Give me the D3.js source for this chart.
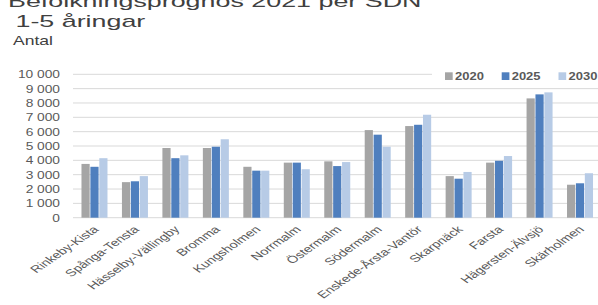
<!DOCTYPE html>
<html>
<head>
<meta charset="utf-8">
<script src="https://cdn.jsdelivr.net/npm/d3@7"></script>
<style>
  html, body { margin: 0; padding: 0; background: #fff; overflow: hidden; }
  svg { display: block; }
  text { font-family: "Liberation Sans", Arial, sans-serif; }
</style>
</head>
<body>
<svg id="chart" width="598" height="305"></svg>
<script>
const categories = ["Rinkeby-Kista", "Spånga-Tensta", "Hässelby-Vällingby", "Bromma", "Kungsholmen",
  "Norrmalm", "Östermalm", "Södermalm", "Enskede-Årsta-Vantör", "Skarpnäck", "Farsta",
  "Hägersten-Älvsjö", "Skärholmen"];
const seriesNames = ["2020", "2025", "2030"];
const values2020 = [3750, 2480, 4860, 4860, 3550, 3840, 3930, 6110, 6390, 2900, 3840, 8320, 2300];
const values2025 = [3550, 2540, 4150, 4950, 3280, 3840, 3600, 5790, 6480, 2720, 3970, 8600, 2400];
const values2030 = [4150, 2900, 4350, 5470, 3280, 3380, 3880, 4950, 7180, 3190, 4300, 8740, 3100];
const yTicks = [0, 1000, 2000, 3000, 4000, 5000, 6000, 7000, 8000, 9000, 10000];
const titleLines = ["Befolkningsprognos 2021 per SDN", " 1-5 åringar"];
const yTitle = "Antal";

const colors = { "2020": "#A5A5A5", "2025": "#4F7FBE", "2030": "#B7CBE6" };
const seriesValues = { "2020": values2020, "2025": values2025, "2030": values2030 };

const svg = d3.select("#chart");
const fmt = v => d3.format(",")(v).replace(/,/g, " ");

const x0 = d3.scaleBand().domain(categories).range([74.25, 600.25]).paddingInner(0).paddingOuter(0);
const x1 = d3.scaleBand().domain(seriesNames).range([-13, 13]).paddingInner(0.08);
const y = d3.scaleLinear().domain([0, 10000]).range([217.7, 74.3]);

// gridlines
svg.append("g").selectAll("line").data(yTicks).join("line")
  .attr("x1", 73).attr("x2", 600)
  .attr("y1", d => y(d)).attr("y2", d => y(d))
  .attr("stroke", "#D9D9D9").attr("stroke-width", 1);

// y tick labels
svg.append("g").selectAll("text").data(yTicks).join("text")
  .attr("transform", d => `translate(60,${y(d) + 3.9}) scale(1.25,1)`)
  .attr("text-anchor", "end")
  .attr("font-size", 11)
  .attr("fill", "#595959")
  .text(d => fmt(d));

// bars
const groups = svg.append("g").selectAll("g").data(categories).join("g")
  .attr("transform", d => `translate(${x0(d) + x0.bandwidth() / 2},0)`);
groups.selectAll("rect").data((d, i) => seriesNames.map(s => ({ s, v: seriesValues[s][i] }))).join("rect")
  .attr("x", d => x1(d.s))
  .attr("width", x1.bandwidth())
  .attr("y", d => y(d.v))
  .attr("height", d => y(0) - y(d.v))
  .attr("fill", d => colors[d.s]);

// category labels
svg.append("g").selectAll("text").data(categories).join("text")
  .attr("transform", d => `translate(${x0(d) + x0.bandwidth() / 2 + 5},230) scale(1.45,1) rotate(-45)`)
  .attr("text-anchor", "end")
  .attr("font-size", 10)
  .attr("fill", "#595959")
  .text(d => d);

// legend
const legX = { "2020": 445, "2025": 501.7, "2030": 558.5 };
svg.append("rect").attr("x", 432).attr("y", 66).attr("width", 166).attr("height", 18).attr("fill", "#fff");
const leg = svg.append("g").selectAll("g").data(seriesNames).join("g")
  .attr("transform", d => `translate(${legX[d]},0)`);
leg.append("rect").attr("x", 0).attr("y", 72.3).attr("width", 7.7).attr("height", 7.7)
  .attr("fill", d => colors[d]);
leg.append("text")
  .attr("transform", "translate(10,80) scale(1.18,1)")
  .attr("font-size", 11).attr("font-weight", "bold")
  .attr("fill", "#595959")
  .text(d => d);

// title
svg.append("text")
  .attr("transform", "translate(8,6.5) scale(1.58,1)")
  .attr("font-size", 17).attr("fill", "#404040")
  .text(titleLines[0]);
svg.append("text")
  .attr("transform", "translate(8,27.3) scale(1.58,1)")
  .attr("font-size", 17).attr("fill", "#404040")
  .attr("xml:space", "preserve")
  .style("white-space", "pre")
  .text(titleLines[1]);

svg.append("text")
  .attr("transform", "translate(13,45) scale(1.35,1)")
  .attr("font-size", 13).attr("fill", "#404040")
  .text(yTitle);
</script>
</body>
</html>
